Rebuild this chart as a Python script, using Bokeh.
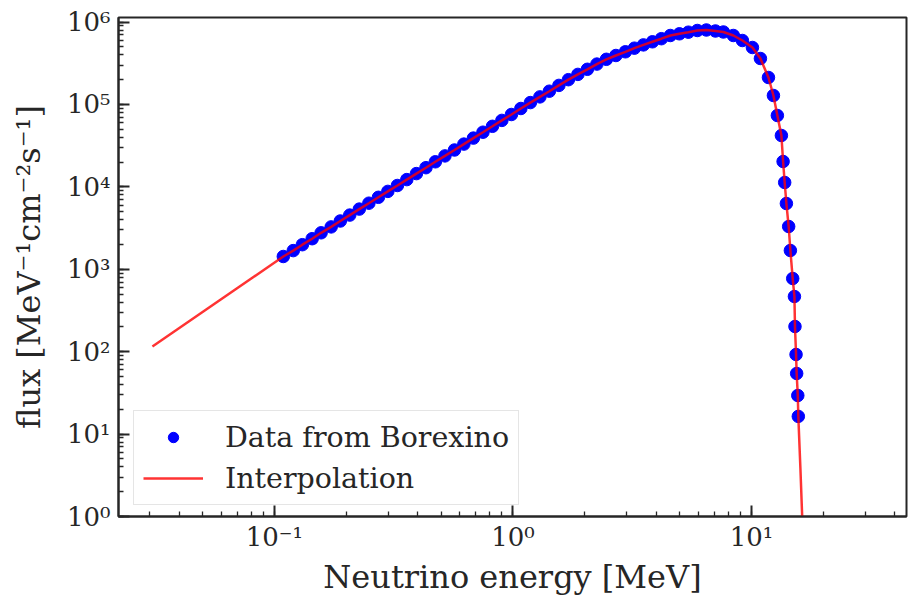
from bokeh.plotting import figure
from bokeh.models import Range1d, CustomJSTickFormatter
from bokeh.embed import file_html
from bokeh.resources import INLINE

# ---- data ----
energy_MeV = [0.109, 0.120, 0.131, 0.144, 0.157, 0.173, 0.189, 0.207, 0.227, 0.249,
              0.273, 0.299, 0.328, 0.359, 0.394, 0.432, 0.473, 0.519, 0.569, 0.623,
              0.683, 0.749, 0.821, 0.899, 0.986, 1.080, 1.184, 1.298, 1.422, 1.559,
              1.709, 1.873, 2.053, 2.250, 2.466, 2.703, 2.963, 3.232, 3.526, 3.846,
              4.194, 4.574, 4.991, 5.443, 5.937, 6.475, 7.066,
              7.631, 8.404, 9.169, 10.10, 10.91, 11.79, 12.37, 12.85, 13.36,
              13.58, 13.79, 14.02, 14.33, 14.57, 14.90, 15.15, 15.23, 15.39, 15.48, 15.65, 15.73]
flux = [1430, 1686, 1989, 2351, 2773, 3270, 3857, 4549, 5378, 6342,
        7477, 8820, 10400, 12260, 14500, 17100, 20170, 23780, 28040, 33060,
        39100, 46100, 54370, 64120, 75600, 89430, 105500, 123700, 145000, 170500,
        200000, 231900, 267500, 309300, 353600, 393300, 436100, 482400, 528900, 576800,
        628800, 687700, 721100, 754100, 790800, 802000, 779800,
        758500, 687700, 597900, 491700, 361600, 212700, 128600, 73530, 42050,
        20340, 11310, 6287, 3306, 1691, 773, 467.6, 202.2, 92.5, 54.4, 29.4, 16.4]

# interpolation curve: extension below and above the data
interp_low_energy = [0.0308]
interp_low_flux = [115.7]
interp_high_energy = [16.05, 16.45]
interp_high_flux = [3.85, 0.556]

interp_energy = interp_low_energy + energy_MeV + interp_high_energy
interp_flux = interp_low_flux + flux + interp_high_flux

FONT = "DejaVu Serif"
TXT = "#262626"

p = figure(width=908, height=598, x_axis_type="log", y_axis_type="log",
           x_range=Range1d(0.0222, 44.7), y_range=Range1d(1.0, 1.137e6),
           output_backend="svg", toolbar_location=None,
           min_border_left=118, min_border_right=2, min_border_top=17, min_border_bottom=82,
           background_fill_color="white", border_fill_color="white")

p.scatter(energy_MeV, flux, size=12.5, color="#0000ff", line_color="#0000ff",
          legend_label="Data from Borexino")
p.line(interp_energy, interp_flux, line_color="#ff0000", line_alpha=0.8, line_width=2.5,
       legend_label="Interpolation")

p.xgrid.visible = False
p.ygrid.visible = False
p.outline_line_color = TXT
p.outline_line_width = 2
p.outline_line_alpha = 1.0

fmt_code = r"""
const sup = {"-": "\u207b", "0": "\u2070", "1": "\u00b9", "2": "\u00b2", "3": "\u00b3",
             "4": "\u2074", "5": "\u2075", "6": "\u2076", "7": "\u2077", "8": "\u2078", "9": "\u2079"};
const e = Math.round(Math.log10(tick));
return "10" + String(e).split("").map(c => sup[c]).join("");
"""

for ax in (p.xaxis[0], p.yaxis[0]):
    ax.formatter = CustomJSTickFormatter(code=fmt_code)
    ax.axis_line_width = 2
    ax.axis_line_color = TXT
    ax.major_tick_in = 11
    ax.major_tick_out = 0
    ax.minor_tick_in = 5
    ax.minor_tick_out = 0
    ax.major_tick_line_width = 2
    ax.major_tick_line_color = TXT
    ax.minor_tick_line_width = 1.3
    ax.minor_tick_line_color = TXT
    ax.major_label_text_font = FONT
    ax.major_label_text_font_size = "26px"
    ax.major_label_text_color = TXT
    ax.axis_label_text_font = FONT
    ax.axis_label_text_font_size = "32px"
    ax.axis_label_text_font_style = "normal"
    ax.axis_label_text_color = TXT

p.xaxis.axis_label = "Neutrino energy [MeV]"
p.yaxis.axis_label = "flux [MeV\u207b\u00b9cm\u207b\u00b2s\u207b\u00b9]"
p.xaxis.major_label_standoff = 5
p.yaxis.major_label_standoff = 8
p.xaxis.axis_label_standoff = 3
p.yaxis.axis_label_standoff = 16

lg = p.legend[0]
lg.location = (15, 11)
lg.label_text_font = FONT
lg.label_text_font_size = "28.5px"
lg.label_text_color = TXT
lg.glyph_width = 60
lg.glyph_height = 26
lg.label_height = 34
lg.label_standoff = 22
lg.padding = 9
lg.spacing = 7
lg.margin = 0
lg.border_line_color = "#cccccc"
lg.border_line_width = 1.5
lg.background_fill_alpha = 0.8

with open("out.html", "w", encoding="utf-8") as f:
    f.write(file_html(p, INLINE, title="flux"))
